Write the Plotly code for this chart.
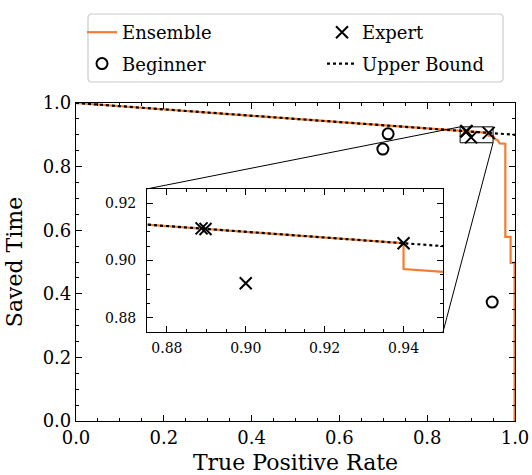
import plotly.graph_objects as go

# ---- data ----
ensemble_x = [0.0, 0.94, 0.94, 0.95, 0.955, 0.96, 0.965, 0.978, 0.978, 0.99, 0.99, 0.999, 0.999]
ensemble_y = [1.0, 0.906, 0.897, 0.896, 0.886, 0.884, 0.873, 0.872, 0.579, 0.579, 0.497, 0.497, 0.0]

expert_x = [0.8888, 0.8898, 0.900, 0.940]
expert_y = [0.9112, 0.9110, 0.892, 0.906]

beginner_x = [0.711, 0.699, 0.948]
beginner_y = [0.903, 0.855, 0.374]

upper_x = [0.0, 1.0]
upper_y = [1.0, 0.9]

main_ticks = [0.0, 0.2, 0.4, 0.6, 0.8, 1.0]
inset_xticks = [0.88, 0.90, 0.92, 0.94]
inset_yticks = [0.88, 0.90, 0.92]

# ---- style / layout ----
ORANGE = "#f47c30"
FONT = "DejaVu Serif"
W, H = 532, 475
ML, MR, MT, MB = 76, 17, 103, 54
PW, PH = W - ML - MR, H - MT - MB
ix0, ix1 = 0.875, 0.95
iy0, iy1 = 0.875, 0.925
dom_x = [0.162, 0.836]
dom_y = [0.280, 0.730]


def px_x(p):
    return (p - ML) / PW


def px_y(p):
    return (H - MB - p) / PH


fig = go.Figure()

specs = [
    ("Ensemble", "legend", dict(mode="lines", line=dict(color=ORANGE, width=2.2)), ensemble_x, ensemble_y),
    ("Expert", "legend2", dict(mode="markers", marker=dict(symbol="x-thin-open", size=12, color="black",
                                                          line=dict(color="black", width=2))), expert_x, expert_y),
    ("Beginner", "legend", dict(mode="markers", marker=dict(symbol="circle-open", size=11, color="black",
                                                           line=dict(color="black", width=2))), beginner_x, beginner_y),
    ("Upper Bound", "legend2", dict(mode="lines", line=dict(color="black", width=2.2, dash="dot")), upper_x, upper_y),
]

for ax, show in (("", True), ("2", False)):
    for name, leg, style, xs, ys in specs:
        fig.add_trace(go.Scatter(x=xs, y=ys, name=name, legend=leg, legendgroup=name,
                                 showlegend=show, xaxis="x" + ax, yaxis="y" + ax, **style))

axis_common = dict(showline=True, linecolor="black", linewidth=1.2, mirror="ticks",
                   ticks="inside", tickcolor="black", ticklen=6, tickwidth=1,
                   showgrid=False, zeroline=False)

leg_common = dict(orientation="v", yanchor="top", xanchor="left", y=px_y(14),
                  bgcolor="rgba(0,0,0,0)", borderwidth=0, itemwidth=30, tracegroupgap=5,
                  font=dict(family=FONT, size=18, color="black"))

fig.update_layout(
    width=W, height=H,
    margin=dict(l=ML, r=MR, t=MT, b=MB, autoexpand=False),
    paper_bgcolor="white", plot_bgcolor="white",
    font=dict(family=FONT, size=18, color="black"),
    xaxis=dict(range=[0, 1], tickvals=main_ticks, tickformat=".1f",
               minor=dict(ticks="inside", dtick=0.05, ticklen=3, tickcolor="black"),
               title=dict(text="True Positive Rate", standoff=14), **axis_common),
    yaxis=dict(range=[0, 1], tickvals=main_ticks, tickformat=".1f",
               minor=dict(ticks="inside", dtick=0.05, ticklen=3, tickcolor="black"),
               title=dict(text="Saved Time", standoff=13), **axis_common),
    xaxis2=dict(domain=dom_x, anchor="y2", range=[ix0, ix1], tickvals=inset_xticks,
                tickformat=".2f", tickfont=dict(size=14), ticklabelstandoff=3,
                minor=dict(ticks="inside", dtick=0.005, ticklen=3, tickcolor="black"),
                **axis_common),
    yaxis2=dict(domain=dom_y, anchor="x2", range=[iy0, iy1], tickvals=inset_yticks,
                tickformat=".2f", tickfont=dict(size=14), ticklabelstandoff=7,
                minor=dict(ticks="inside", dtick=0.005, ticklen=3, tickcolor="black"),
                **axis_common),
    legend=dict(x=px_x(122 - 40), **leg_common),
    legend2=dict(x=px_x(362 - 40), **leg_common),
    showlegend=True,
)

# legend frame (rounded rectangle) in paper coordinates
bx0, bx1 = px_x(88), px_x(503)
by0, by1 = px_y(82), px_y(14)
rx, ry = 4 / PW, 4 / PH
path = (f"M{bx0 + rx},{by1} L{bx1 - rx},{by1} Q{bx1},{by1} {bx1},{by1 - ry} "
        f"L{bx1},{by0 + ry} Q{bx1},{by0} {bx1 - rx},{by0} "
        f"L{bx0 + rx},{by0} Q{bx0},{by0} {bx0},{by0 + ry} "
        f"L{bx0},{by1 - ry} Q{bx0},{by1} {bx0 + rx},{by1} Z")
fig.add_shape(type="path", xref="paper", yref="paper", path=path,
              line=dict(color="#cccccc", width=1.2))

# zoom indicator rectangle and connector lines
fig.add_shape(type="rect", xref="x", yref="y", x0=ix0, x1=ix1, y0=iy0, y1=iy1,
              line=dict(color="black", width=1))
fig.add_shape(type="line", xref="x", yref="y", x0=ix0, y0=iy1, x1=dom_x[0], y1=dom_y[1],
              line=dict(color="black", width=1))
fig.add_shape(type="line", xref="x", yref="y", x0=ix1, y0=iy0, x1=dom_x[1], y1=dom_y[0],
              line=dict(color="black", width=1))

fig.write_html("out.html", config={"displayModeBar": False},
               post_script="document.body.style.margin='0';document.body.style.overflow='hidden';")
